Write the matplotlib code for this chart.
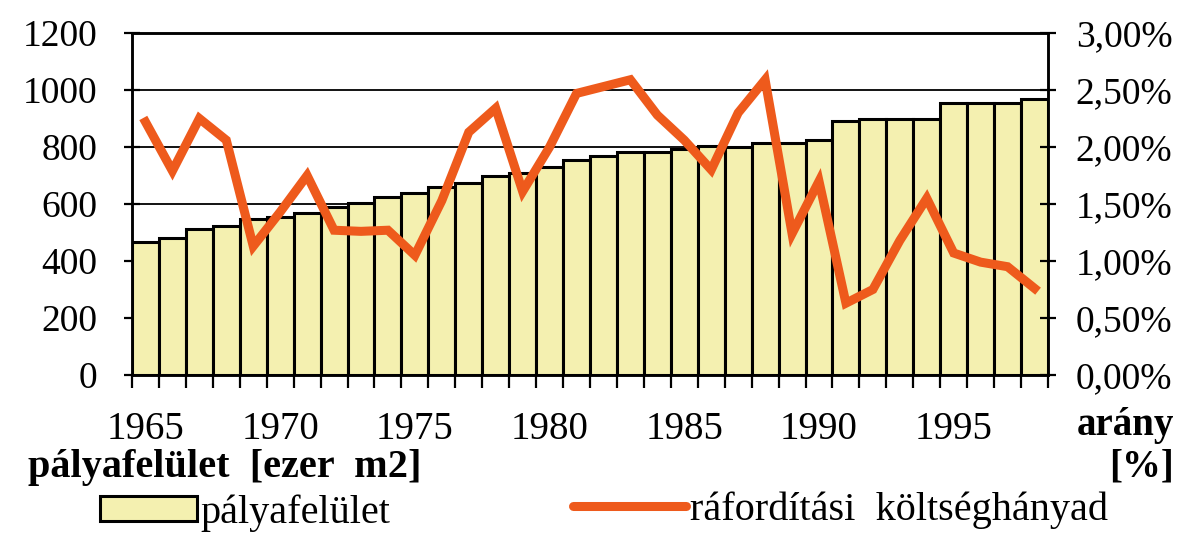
import matplotlib
matplotlib.use("Agg")
import matplotlib.pyplot as plt
from matplotlib.ticker import FuncFormatter, MultipleLocator
from matplotlib.patches import Patch
from matplotlib.lines import Line2D


years = list(range(1965, 1999))

# pályafelület [ezer m2]
area = [468, 480, 511, 523, 546, 556, 567, 591, 602, 626,
        638, 659, 675, 698, 710, 731, 754, 767, 784, 784,
        792, 804, 801, 815, 813, 825, 890, 900, 900, 900,
        955, 955, 955, 968]

# ráfordítási költséghányad [%]
share = [2.22, 1.79, 2.25, 2.06, 1.13, 1.43, 1.75, 1.27, 1.26, 1.27,
         1.05, 1.53, 2.13, 2.34, 1.61, 2.00, 2.47, 2.53, 2.59, 2.28,
         2.06, 1.80, 2.30, 2.59, 1.24, 1.70, 0.63, 0.75, 1.18, 1.55,
         1.07, 0.99, 0.95, 0.76]

label_years = [1965, 1970, 1975, 1980, 1985, 1990, 1995]

BAR_COLOR = "#f4f0b0"
LINE_COLOR = "#ee5a1c"
FONT = "Liberation Serif"

plt.rcParams["font.family"] = FONT

fig = plt.figure(figsize=(11.92, 5.33), dpi=100)
ax = fig.add_axes([132 / 1192, 158 / 533, 916 / 1192, 342 / 533])

x = list(range(len(years)))
ax.bar(x, area, width=1.0, color=BAR_COLOR, edgecolor="black",
       linewidth=2.2, zorder=2)

ax.set_xlim(-0.5, len(years) - 0.5)
ax.set_ylim(0, 1200)
ax.yaxis.set_major_locator(MultipleLocator(200))
ax.set_axisbelow(True)
ax.yaxis.grid(True, color="black", linewidth=1.3, zorder=0)

# évszámok minden 5. oszlop alatt, osztásjelek az oszlopok határán
ax.set_xticks([years.index(y) for y in label_years])
ax.set_xticklabels([str(y) for y in label_years])
ax.set_xticks([i - 0.5 for i in range(len(years) + 1)], minor=True)
ax.tick_params(axis="x", which="major", length=0, pad=26, labelsize=28)
ax.tick_params(axis="x", which="minor", direction="out", length=9,
               width=1.6)
ax.tick_params(axis="y", direction="inout", length=12, width=1.6,
               labelsize=27, pad=19)

for side in ["left", "bottom", "top", "right"]:
    ax.spines[side].set_linewidth(1.8)

ax2 = ax.twinx()
ax2.plot(x, share, color=LINE_COLOR, linewidth=6.5,
         solid_joinstyle="miter", zorder=5)
ax2.set_ylim(0, 3.0)
ax2.yaxis.set_major_locator(MultipleLocator(0.5))
ax2.yaxis.set_major_formatter(
    FuncFormatter(lambda v, p: f"{v:.2f}".replace(".", ",") + "%"))
ax2.tick_params(axis="y", direction="inout", length=12, width=1.6,
                labelsize=27, pad=14)
for side in ["left", "bottom", "top", "right"]:
    ax2.spines[side].set_linewidth(1.8)

# tengelyfeliratok
fig.text(1174 / 1192, 1 - 425 / 533, "arány", fontsize=28,
         fontweight="bold", ha="right", va="center")
fig.text(1174 / 1192, 1 - 467 / 533, "[%]", fontsize=28,
         fontweight="bold", ha="right", va="center")
fig.text(28 / 1192, 1 - 467 / 533, "pályafelület  [ezer  m2]", fontsize=29,
         fontweight="bold", ha="left", va="center")

# jelmagyarázat
h_bar = Patch(facecolor=BAR_COLOR, edgecolor="black", linewidth=2.2)
h_line = Line2D([0], [0], color=LINE_COLOR, linewidth=6.5,
                solid_capstyle="round")
leg1 = fig.legend([h_bar], ["pályafelület"], loc="center left",
                  bbox_to_anchor=(100 / 1192, 1 - 513 / 533),
                  frameon=False, fontsize=29, handlelength=2.4,
                  handleheight=0.6, handletextpad=0.1, borderpad=0,
                  borderaxespad=0)
leg2 = fig.legend([h_line], ["ráfordítási  költséghányad"],
                  loc="center left",
                  bbox_to_anchor=(573 / 1192, 1 - 510 / 533),
                  frameon=False, fontsize=29, handlelength=2.8,
                  handletextpad=0.1, borderpad=0, borderaxespad=0)

fig.savefig("out.png", dpi=100, facecolor="white")
